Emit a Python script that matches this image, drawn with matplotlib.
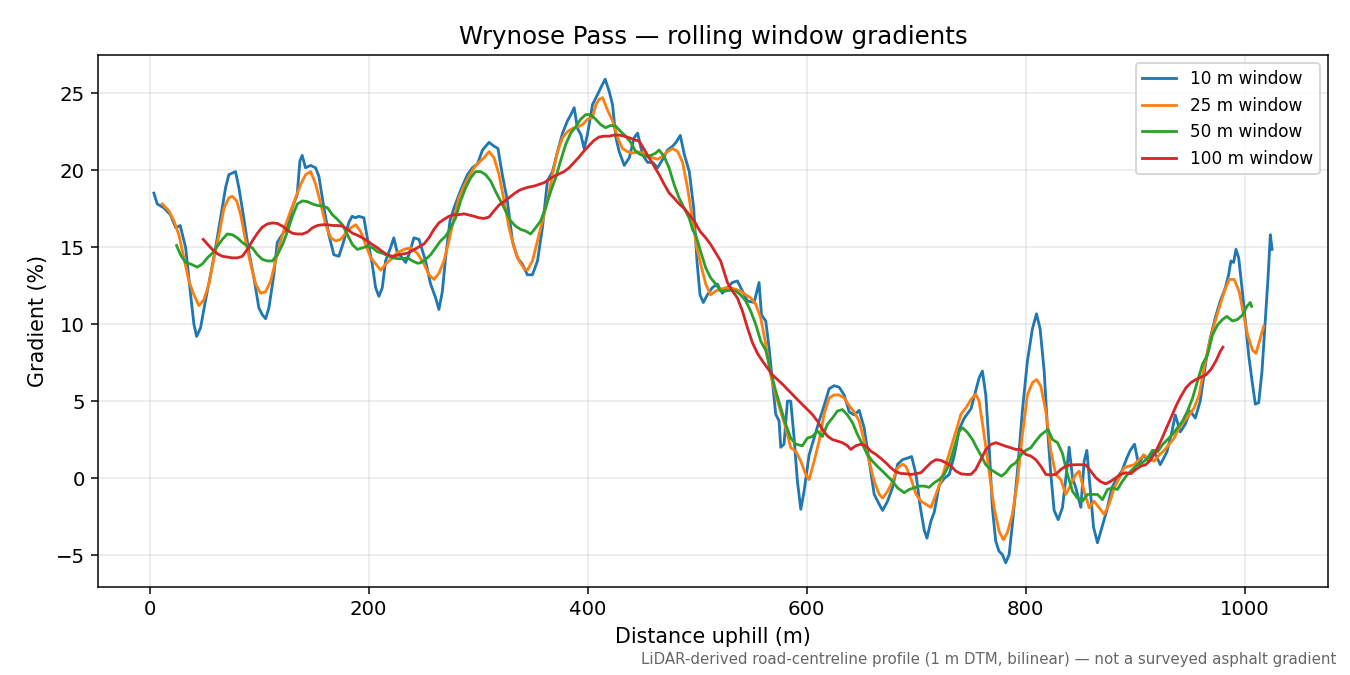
import numpy as np
import matplotlib
matplotlib.use("Agg")
import matplotlib.pyplot as plt

# values: (distance uphill m, gradient %)
w10_dist = [4, 7, 13, 19, 24, 28, 33, 37.5, 40.5, 43, 46.6, 51, 55.7, 60.3, 64.8, 69.4, 72.4, 75.5, 78.5, 81.6,
            86, 90.7, 95.3, 99.8, 103, 106, 109, 113.5, 116.6, 121, 125.7, 130.3, 134.8, 137.3, 139.4, 142.4, 147,
            151.6, 154.6, 159.2, 163.7, 168.3, 172.9, 177.4, 182, 185, 188, 191, 195.7, 198.8, 203.3, 206.4,
            209.4, 212.5, 215.5, 220, 223, 226, 230.7, 233.8, 236.8, 241.4, 246, 252, 256.6, 261.2, 264.2,
            267.3, 270.3, 274.3, 278, 282.5, 285.6, 290.2, 294.8, 299.4, 304, 310, 314.5, 318.1, 322.1, 326.7,
            331.3, 335.9, 340.4, 345, 349.6, 354.2, 358.7, 363.3, 367.9, 372.5, 377.1, 381.6, 384.7, 387.7,
            390.7, 393.8, 396.8, 399.8, 404.4, 409, 412, 416, 419.7, 422.7, 425.8, 428.8, 433.4, 438, 442.5,
            445.6, 450.1, 454.7, 459.3, 463.9, 468.5, 473, 477.6, 480.7, 484.6, 488.3, 492.8, 496.8, 499.8,
            502.6, 505.6, 509.3, 513.8, 518.4, 523, 527.6, 532.1, 536.7, 541.3, 545.9, 552, 556.5, 558.7,
            562.6, 565.6, 568.7, 571.7, 574.8, 576.3, 579.3, 582.4, 585.4, 588.5, 591.5, 594.6, 597.6, 602.2,
            606.8, 611.3, 615.9, 620.5, 625, 629.6, 634.2, 638.8, 643.3, 647.9, 652.5, 657.1, 661.6, 666.2,
            669.3, 673.8, 678.4, 683, 687.6, 692.1, 695.8, 699.8, 703.7, 707.4, 709.8, 713.4, 716.5, 721,
            725.6, 730.2, 734.8, 739.4, 743.9, 750, 754.3, 757.4, 760.4, 763.5, 766.5, 769.5, 772.6, 775.6,
            778.7, 781.7, 784.8, 787.8, 792.4, 796.9, 801.5, 806.1, 809.8, 813.1, 816.8, 819.8, 822.9, 825.9,
            829.6, 833.5, 836.6, 839.6, 842.7, 845.7, 847.2, 850.3, 853.3, 855.8, 858.8, 861.9, 865.5, 869.5,
            874, 878.6, 883.2, 887.7, 892.3, 895.4, 899.3, 903, 907.5, 912.1, 916.7, 922.8, 928.9, 933.4,
            936.5, 941.1, 945.6, 950.2, 954.8, 959.3, 962.4, 965.4, 968.5, 973, 977.6, 982.2, 985.2, 987.3,
            989.8, 991.9, 994.4, 997.4, 1000.5, 1003.5, 1006.6, 1009.6, 1012.7, 1015.7, 1018.7, 1021.2,
            1023.3, 1024.9]
w10_grad = [18.5, 17.8, 17.55, 17.1, 16.25, 16.4, 14.95, 11.9, 10.0, 9.2, 9.76, 11.5, 13.2, 14.95, 16.9, 18.85,
            19.7, 19.8, 19.9, 18.85, 16.9, 14.7, 13.0, 11.06, 10.6, 10.35, 11.06, 13.2, 15.3, 15.8, 16.25, 17.55,
            18.4, 20.6, 20.95, 20.15, 20.3, 20.15, 19.6, 17.55, 15.8, 14.5, 14.4, 15.4, 16.6, 17.0, 16.9, 17.0,
            16.9, 15.6, 13.9, 12.36, 11.8, 12.36, 14.1, 14.95, 15.6, 14.7, 14.3, 14.0, 14.5, 15.6, 15.5, 14.1,
            12.6, 11.7, 10.95, 12.1, 14.3, 16.7, 17.55, 18.4, 18.95, 19.7, 20.15, 20.4, 21.3, 21.8, 21.55, 21.4,
            19.7, 18.0, 15.4, 14.3, 13.9, 13.2, 13.2, 14.1, 16.25, 19.3, 19.9, 21.2, 22.4, 23.2, 23.6, 24.05,
            22.7, 22.3, 21.4, 22.3, 24.25, 24.9, 25.35, 25.9, 25.1, 24.25, 22.1, 21.2, 20.3, 20.8, 22.1, 22.4,
            21.0, 20.5, 20.5, 20.15, 20.7, 21.3, 21.55, 21.8, 22.25, 21.0, 19.9, 17.55, 14.1, 11.9, 11.4, 11.9,
            12.36, 12.6, 12.0, 12.36, 12.7, 12.8, 12.15, 11.5, 11.4, 12.7, 10.6, 10.2, 8.5, 6.3, 4.15, 3.7, 2.0,
            2.2, 5.0, 5.0, 2.6, -0.2, -2.03, -0.86, 1.5, 2.6, 3.7, 4.7, 5.8, 6.0, 5.9, 5.4, 4.3, 4.1, 4.4, 3.25,
            1.1, -1.05, -1.7, -2.1, -1.5, -0.6, 0.9, 1.2, 1.3, 1.4, 0.24, -1.9, -3.4, -3.9, -2.8, -2.2, -0.45,
            -0.02, 0.24, 1.5, 3.2, 3.9, 4.5, 5.65, 6.5, 6.95, 5.4, 2.18, -1.92, -4.1, -4.75, -4.97, -5.5, -4.97,
            -3.0, 0.45, 4.35, 7.6, 9.7, 10.67, 9.7, 6.95, 3.27, 0.24, -2.1, -2.7, -1.92, 0.0, 2.0, 0.0, -0.63,
            -1.06, -1.9, 1.1, 1.8, -0.63, -3.2, -4.2, -3.2, -2.1, -0.63, 0.0, 0.45, 1.3, 1.8, 2.2, 0.87, 1.5,
            1.1, 1.8, 0.87, 1.7, 3.0, 4.1, 3.0, 3.5, 4.35, 3.9, 5.0, 6.5, 8.0, 9.1, 10.4, 11.5, 12.35, 13.2,
            14.1, 14.0, 14.85, 14.3, 12.35, 10.2, 8.0, 6.3, 4.8, 4.9, 6.95, 10.2, 13.0, 15.8, 14.85]

w25_dist = [11.6, 17.7, 22.3, 26.8, 31.4, 35.9, 40.5, 45.1, 49.7, 54.2, 58.8, 63.4, 68, 72.5, 75.6, 79.5, 83.2,
            87.7, 92.3, 96.9, 101.4, 106, 110.6, 115.2, 119.7, 124.3, 128.8, 133.4, 138, 142.5, 147.1, 151.7,
            156.3, 160.8, 165.4, 170, 174.5, 179.1, 183.7, 188.2, 192.8, 197.4, 202, 206.5, 211.1, 215.7,
            220.2, 226.3, 232.4, 238.5, 244.5, 250.6, 255.1, 259.7, 264.2, 268.8, 273.4, 278, 282.5, 287.1,
            291.7, 296.3, 300.8, 305.4, 310, 314.5, 319.1, 323.7, 328.2, 332.8, 337.4, 342, 345, 349.6, 354.2,
            358.7, 363.3, 367.9, 372.5, 377.1, 381.6, 386.2, 390.7, 395.3, 399.9, 404.4, 407.5, 410.5, 413.6,
            418.1, 422.7, 427.3, 431.8, 436.4, 441, 445.6, 450.1, 454.7, 459.3, 463.9, 468.4, 473, 477.6,
            482.2, 486.7, 491.3, 495.9, 499.5, 503.2, 507.8, 512.3, 516.9, 521.4, 526, 530.6, 535.1, 539.7,
            544.3, 548.8, 553.4, 558, 562.6, 567.1, 571.7, 576.3, 580.8, 585.4, 590, 594.6, 599.1, 602.2,
            606.8, 611.3, 615.9, 620.5, 625, 629.6, 634.2, 638.8, 643.3, 647.9, 652.5, 657.1, 661.6, 666.2,
            669.3, 673.8, 678.4, 683, 687.6, 690.6, 695.1, 699.8, 704.3, 708.9, 713.4, 718, 722.6, 727.1,
            731.7, 736.3, 740.8, 745.4, 750, 754.3, 757.4, 762, 766.5, 771.1, 775.6, 779.6, 783.2, 787.8,
            792.4, 796.9, 801.5, 806.1, 810, 813.7, 818.3, 822.9, 827.4, 832, 836.6, 841.1, 845.7, 848.8,
            853.3, 857.9, 862.4, 867, 871.6, 876.1, 880.7, 885.3, 889.8, 894.4, 899, 903.5, 908.1, 912.7,
            917.2, 921.8, 926.4, 930.9, 935.5, 940.1, 944.6, 949.2, 953.8, 958.3, 962.9, 967.5, 972, 976.6,
            981.2, 985.7, 990.3, 994.9, 998.9, 1002.5, 1007.1, 1010.2, 1014.2, 1017.2]
w25_grad = [17.8, 17.35, 16.7, 15.8, 14.3, 12.8, 11.9, 11.2, 11.6, 12.6, 14.3, 15.8, 17.55, 18.2, 18.3, 18.0,
            17.1, 15.4, 13.9, 12.6, 12.0, 12.1, 12.8, 14.1, 15.4, 16.45, 17.35, 18.2, 19.07, 19.7, 19.9, 19.07,
            17.8, 16.45, 15.6, 15.4, 15.5, 15.9, 16.25, 16.45, 16.0, 15.15, 14.3, 13.9, 13.5, 13.9, 14.2,
            14.65, 14.85, 14.95, 14.6, 13.9, 13.2, 12.9, 13.3, 14.1, 15.4, 16.9, 18.2, 18.95, 19.6, 20.15,
            20.5, 20.8, 21.2, 20.8, 19.7, 18.0, 16.25, 14.95, 14.1, 13.6, 13.5, 14.1, 15.4, 16.7, 18.0, 19.7,
            21.2, 22.1, 22.5, 22.7, 22.8, 22.95, 23.3, 23.4, 24.25, 24.6, 24.7, 23.9, 23.2, 22.1, 21.4, 21.2,
            21.1, 21.2, 21.1, 20.85, 20.8, 20.7, 20.9, 21.2, 21.4, 21.2, 20.5, 18.8, 16.7, 15.0, 13.9, 12.6,
            11.9, 12.15, 12.25, 12.36, 12.36, 12.25, 12.15, 11.9, 11.7, 11.3, 10.4, 8.7, 6.7, 5.4, 4.3, 3.27,
            1.97, 1.75, 1.1, 0.24, -0.1, 1.1, 2.4, 4.15, 5.2, 5.4, 5.4, 5.2, 4.7, 4.3, 3.7, 2.4, 1.1, -0.2,
            -1.05, -1.3, -0.86, -0.2, 0.67, 0.9, 0.76, -0.02, -1.05, -1.5, -1.7, -1.9, -1.05, -0.2, 0.9, 1.97,
            3.05, 4.15, 4.57, 5.1, 5.45, 5.0, 2.8, 0.45, -1.92, -3.45, -4.0, -3.55, -2.35, -0.2, 2.8, 5.4, 6.2,
            6.4, 5.97, 4.35, 1.75, 0.24, -0.1, -1.06, -0.41, 0.24, 0.45, -0.86, -1.92, -1.5, -1.92, -2.35,
            -1.7, -0.63, 0.0, 0.67, 0.78, 0.87, 1.2, 1.5, 1.2, 1.1, 1.5, 1.8, 2.2, 2.6, 3.27, 3.7, 4.1, 4.57,
            5.4, 7.2, 8.7, 9.95, 11.06, 12.1, 12.9, 12.9, 12.1, 10.6, 9.3, 8.3, 8.1, 9.1, 9.85]

w50_dist = [24.7, 28.3, 32.9, 37.5, 43.6, 48.2, 52.8, 57.3, 61.9, 66.5, 71, 75.6, 80.2, 84.7, 89.3, 93.9, 98.5,
            103, 107.6, 112.1, 116.7, 121.3, 125.9, 130.4, 135, 139.6, 144.1, 148.7, 153.3, 157.8, 162.4, 167,
            171.5, 176.1, 180.7, 185.3, 189.8, 194.4, 199, 203.6, 208.1, 212.7, 217.2, 221.8, 226.4, 231,
            235.5, 240.1, 244.7, 247.4, 252, 256.6, 261.2, 265.7, 270.3, 274.9, 279.5, 284, 288.6, 293.2,
            297.7, 302.3, 306.8, 311.4, 316, 320.5, 325.1, 329.7, 334.2, 338.8, 343.4, 348, 352.5, 357.1,
            361.6, 366.2, 370.8, 375.3, 379.9, 384.5, 389.1, 393.6, 398.2, 402.8, 407.3, 411.9, 416.4, 421,
            425.6, 430.2, 434.7, 439.3, 443.9, 448.4, 453, 457.6, 462.1, 465.2, 469.7, 474.3, 478.9, 483.4,
            488, 492.6, 496, 498.6, 503.2, 507.8, 512.3, 516.9, 521.4, 526, 530.6, 535.1, 539.7, 544.3, 548.8,
            553.4, 558, 562.6, 567.1, 571.7, 576.3, 580.8, 585.4, 590, 596.1, 600.6, 605.2, 609.8, 614.3,
            618.9, 623.5, 628, 632.6, 637.2, 641.8, 646.3, 650.9, 655.5, 660, 664.6, 669.2, 673.7, 678.3,
            682.9, 689, 693.5, 698.1, 702.7, 707.3, 711.8, 716.4, 721, 725.5, 730.1, 734.7, 739.2, 742.3,
            746.9, 751.4, 755, 758.9, 763.5, 768, 772.6, 777.8, 781.7, 786.3, 790.9, 795.4, 800, 804.6,
            809.1, 813.7, 818.3, 820.4, 824.4, 829, 833.5, 838.1, 842.7, 847.2, 851.8, 856.3, 860.9, 865.5,
            870, 874.6, 879.2, 883.7, 888.3, 892.9, 897.4, 902, 906.6, 911.2, 915.7, 920.3, 924.9, 929.4,
            934, 938.6, 943.1, 947.7, 952.3, 956.8, 961.4, 966, 970.5, 975.1, 979.7, 983.6, 988.8, 993.4, 998,
            1001.9, 1005, 1006.2]
w50_grad = [15.1, 14.5, 14.0, 13.9, 13.7, 13.9, 14.3, 14.6, 15.06, 15.5, 15.85, 15.8, 15.6, 15.3, 15.06, 14.95,
            14.5, 14.2, 14.1, 14.1, 14.5, 15.15, 16.0, 17.0, 17.8, 18.0, 17.95, 17.8, 17.7, 17.66, 17.55, 17.1,
            16.8, 16.45, 15.8, 15.15, 14.85, 14.95, 15.06, 14.95, 14.7, 14.6, 14.45, 14.3, 14.25, 14.25, 14.3,
            14.1, 13.95, 13.98, 14.2, 14.5, 14.95, 15.4, 15.7, 16.25, 16.9, 18.0, 18.85, 19.5, 19.9, 19.9, 19.7,
            19.3, 18.6, 18.0, 17.35, 16.7, 16.36, 16.15, 16.04, 15.85, 16.25, 16.7, 17.55, 18.6, 19.5, 20.6,
            21.65, 22.4, 22.8, 23.3, 23.6, 23.6, 23.3, 22.95, 22.75, 22.9, 22.85, 22.5, 22.2, 21.8, 21.2, 21.0,
            20.9, 20.95, 21.1, 21.3, 20.9, 20.15, 19.07, 18.2, 17.55, 16.9, 16.1, 15.8, 14.7, 13.65, 13.0, 12.6,
            12.15, 12.15, 12.2, 12.15, 11.9, 11.5, 10.85, 10.0, 8.9, 8.3, 6.95, 5.65, 4.57, 3.5, 2.6, 2.2, 2.1,
            2.6, 2.7, 3.05, 2.7, 3.5, 3.9, 4.35, 4.45, 4.1, 3.6, 2.84, 2.2, 1.5, 1.1, 0.76, 0.45, 0.13, -0.2,
            -0.63, -0.95, -0.74, -0.63, -0.52, -0.52, -0.6, -0.3, -0.1, 0.24, 0.9, 1.97, 3.05, 3.27, 2.95, 2.5,
            2.0, 1.5, 0.87, 0.56, 0.35, 0.13, 0.35, 0.78, 1.0, 1.5, 1.8, 1.97, 2.4, 2.8, 3.05, 3.15, 2.5, 2.3,
            1.6, 0.24, -0.86, -1.3, -1.5, -1.06, -1.06, -1.06, -1.4, -0.74, -0.63, -0.74, -0.2, 0.24, 0.56,
            0.87, 1.0, 1.3, 1.8, 1.7, 2.18, 2.5, 2.84, 3.27, 3.7, 4.35, 5.2, 6.3, 7.4, 8.0, 9.3, 9.95, 10.3,
            10.5, 10.2, 10.3, 10.6, 11.15, 11.4, 11.15]

w100_dist = [49, 52.7, 57.3, 61.9, 66.5, 71, 75.6, 80.2, 84.7, 89.3, 93.9, 98.5, 103, 107.6, 112.1, 116.7,
             121.3, 125.9, 130.4, 135, 139.6, 144.1, 148.7, 153.3, 157.8, 162.4, 167, 171.5, 176.1, 180.7,
             185.3, 189.8, 194.4, 199, 203.6, 208.1, 212.7, 217.2, 221.8, 226.4, 231, 235.5, 240.1, 244.5,
             250.6, 255.1, 259.7, 264.2, 268.8, 273.4, 278, 282.5, 287.1, 291.7, 296.3, 300.8, 305.4, 310,
             314.5, 319.1, 323.7, 328.2, 332.8, 337.4, 342, 346.5, 351.1, 355.7, 360.2, 364.8, 369.4, 373.9,
             378.5, 383.1, 387.7, 392.2, 396.8, 401.4, 405.9, 410.5, 415.1, 419.6, 424.2, 428.8, 433.4, 437.9,
             442.5, 447.1, 451.6, 456.2, 460.8, 465.3, 469.9, 474.5, 479, 483.6, 488.2, 492.8, 497.3, 502.8,
             507.8, 512.3, 516.9, 521.4, 524.5, 527.6, 532.1, 536.7, 541.3, 545.9, 550.4, 555, 559.6, 564.1,
             568.7, 573.2, 577.8, 582.4, 587, 591.5, 596.1, 600.7, 605.2, 609.8, 614.4, 618.9, 623.5, 628.1,
             632.6, 637.2, 640.2, 644.8, 649.4, 654, 658.5, 663.1, 667.7, 672.2, 676.8, 681.4, 686, 690.5,
             695.1, 699.7, 704.3, 708.8, 713.4, 718, 722.5, 727.1, 731.7, 736.2, 740.8, 745.4, 750, 754.3,
             758.9, 763.5, 768, 772.6, 777.2, 781.7, 786.3, 790.9, 795.4, 800, 804.6, 809.1, 813.7, 818.3,
             822.9, 827.4, 832, 836.6, 841.1, 845.7, 850.3, 854.8, 859.4, 864, 868.5, 873.1, 877.7, 882.2,
             886.8, 891.4, 895.9, 900.5, 905.1, 909.6, 914.2, 918.8, 923.3, 927.9, 932.5, 937.1, 941.6, 946.2,
             950.8, 955.3, 959.9, 964.5, 969, 973.6, 977.6, 980]
w100_grad = [15.5, 15.2, 14.85, 14.57, 14.4, 14.35, 14.3, 14.3, 14.4, 14.85, 15.4, 15.9, 16.3, 16.5, 16.57,
             16.53, 16.36, 16.1, 15.9, 15.85, 15.85, 15.97, 16.25, 16.4, 16.45, 16.45, 16.4, 16.4, 16.36, 16.15,
             15.9, 15.77, 15.6, 15.4, 15.15, 14.95, 14.7, 14.5, 14.4, 14.47, 14.55, 14.6, 14.78, 14.95, 15.2,
             15.6, 16.15, 16.57, 16.8, 17.0, 17.1, 17.1, 17.16, 17.08, 17.0, 16.9, 16.86, 16.95, 17.35, 17.73,
             17.95, 18.2, 18.46, 18.68, 18.81, 18.9, 18.96, 19.07, 19.18, 19.4, 19.6, 19.75, 19.9, 20.15, 20.5,
             20.85, 21.25, 21.6, 21.93, 22.15, 22.2, 22.2, 22.27, 22.27, 22.2, 22.1, 21.97, 21.88, 21.34, 20.8,
             20.25, 19.7, 19.07, 18.5, 18.17, 17.8, 17.5, 17.1, 16.7, 16.0, 15.6, 15.17, 14.63, 14.1, 13.4,
             12.7, 12.15, 11.7, 10.85, 9.76, 8.8, 8.1, 7.6, 7.16, 6.7, 6.4, 6.1, 5.76, 5.43, 5.1, 4.78, 4.45,
             4.13, 3.7, 3.16, 2.73, 2.5, 2.4, 2.3, 2.1, 1.86, 2.1, 2.2, 2.1, 1.75, 1.54, 1.28, 1.0, 0.67, 0.41,
             0.3, 0.28, 0.24, 0.28, 0.35, 0.67, 1.0, 1.2, 1.15, 1.0, 0.78, 0.45, 0.28, 0.24, 0.24, 0.56, 1.2,
             1.84, 2.18, 2.3, 2.18, 2.07, 1.97, 1.86, 1.86, 1.54, 1.43, 1.2, 0.78, 0.24, 0.2, 0.24, 0.56, 0.78,
             0.85, 0.87, 0.87, 0.85, 0.45, 0.02, -0.24, -0.37, -0.2, 0.02, 0.24, 0.35, 0.28, 0.56, 0.78, 0.87,
             1.2, 1.75, 2.4, 3.16, 3.9, 4.67, 5.3, 5.86, 6.2, 6.4, 6.55, 6.7, 7.05, 7.6, 8.23, 8.5]

series = [
    ("10 m window", w10_dist, w10_grad),
    ("25 m window", w25_dist, w25_grad),
    ("50 m window", w50_dist, w50_grad),
    ("100 m window", w100_dist, w100_grad),
]

fig, ax = plt.subplots(figsize=(10, 5), dpi=135)
fig.subplots_adjust(left=0.0726, right=0.9837, top=0.9185, bottom=0.1304)

for label, d, g in series:
    ax.plot(d, g, lw=1.5, label=label)

ax.set_title("Wrynose Pass — rolling window gradients", fontsize=13)
ax.set_xlabel("Distance uphill (m)", fontsize=11)
ax.set_ylabel("Gradient (%)", fontsize=11)
ax.tick_params(labelsize=10.5)
ax.grid(True, alpha=0.3)
ax.legend(loc="upper right", fontsize=9)
fig.text(0.99, 0.012, "LiDAR-derived road-centreline profile (1 m DTM, bilinear) — not a surveyed asphalt gradient",
         ha="right", va="bottom", fontsize=8, color="0.4")

fig.savefig("out.png")
